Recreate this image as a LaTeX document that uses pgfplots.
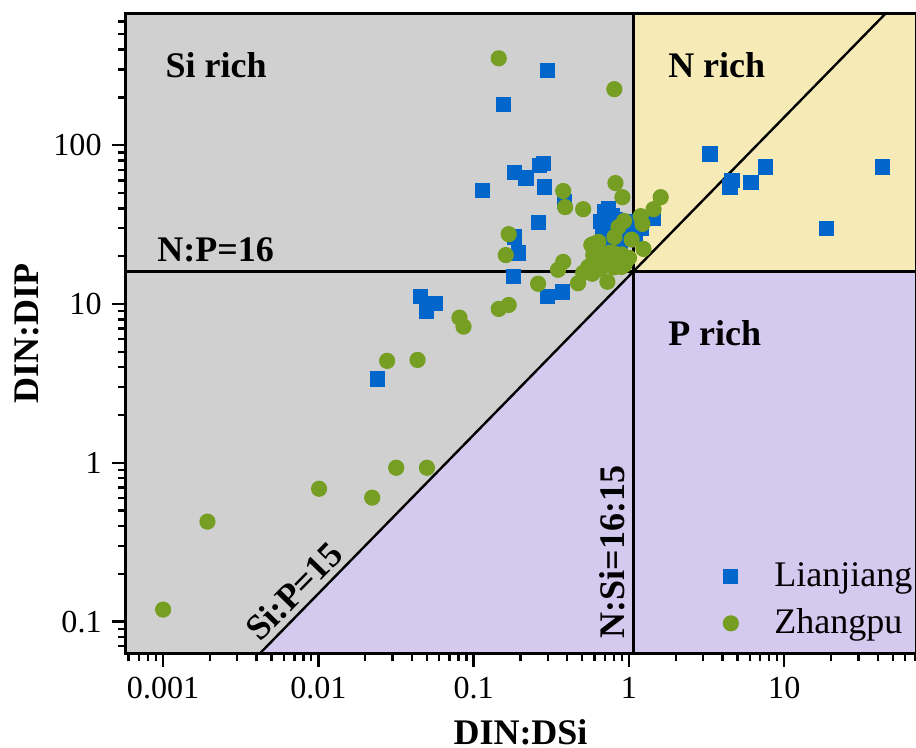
\documentclass[border=0pt]{standalone}
\usepackage{fontspec}
\setmainfont{Liberation Serif}
\usepackage{pgfplots}
\pgfplotsset{compat=1.18}
\definecolor{sigray}{RGB}{208,208,208}
\definecolor{nyellow}{RGB}{246,235,183}
\definecolor{ppurple}{RGB}{212,202,240}
\definecolor{ljblue}{RGB}{0,102,204}
\definecolor{zpgreen}{RGB}{118,158,34}
\begin{document}
\begin{tikzpicture}
\begin{axis}[
 scale only axis, width=263.7pt, height=213.5pt,
 xmode=log, ymode=log,
 xmin=0.000569, xmax=70.5, ymin=0.0626, ymax=674,
 xtick={0.001,0.01,0.1,1,10}, xticklabels={0.001,0.01,0.1,1,10},
 ytick={0.1,1,10,100}, yticklabels={0.1,1,10,100},
 minor xtick={0.0006,0.0007,0.0008,0.0009,0.002,0.003,0.004,0.005,0.006,0.007,0.008,0.009,0.02,0.03,0.04,0.05,0.06,0.07,0.08,0.09,0.2,0.3,0.4,0.5,0.6,0.7,0.8,0.9,2,3,4,5,6,7,8,9,20,30,40,50,60,70},
 minor ytick={0.07,0.08,0.09,0.2,0.3,0.4,0.5,0.6,0.7,0.8,0.9,2,3,4,5,6,7,8,9,20,30,40,50,60,70,80,90,200,300,400,500,600},
 tick align=outside, xtick pos=bottom, ytick pos=left,
 major tick length=4.3pt, minor tick length=2.3pt,
 every tick/.style={black, line width=0.8pt},
 axis line style={line width=1pt},
 tick label style={font=\fontsize{10.7}{12}\selectfont},
 xlabel={DIN:DSi}, ylabel={DIN:DIP},
 label style={font=\bfseries\fontsize{12}{14}\selectfont},
 xlabel style={at={(axis description cs:0.5,-0.102)}, anchor=north, inner sep=0pt},
 ylabel style={at={(axis description cs:-0.124,0.5)}, anchor=center, inner sep=0pt},
 legend style={at={(axis description cs:1.015,0.005)}, anchor=south east, draw=none, fill=none,
   font=\fontsize{12}{14}\selectfont, row sep=2pt},
 legend cell align=left,
 legend image code/.code={\draw[#1,only marks] plot coordinates {(0pt,0pt)};},
 /tikz/every odd column/.append style={column sep=10pt},
 axis on top,
]
% regions
\addplot[fill=sigray, draw=none, forget plot] coordinates {(0.000569,0.0626)(0.004173,0.0626)(1.0667,16)(1.0667,674)(0.000569,674)} -- cycle;
\addplot[fill=nyellow, draw=none, forget plot] coordinates {(1.0667,16)(70.5,16)(70.5,674)(1.0667,674)} -- cycle;
\addplot[fill=ppurple, draw=none, forget plot] coordinates {(0.004173,0.0626)(70.5,0.0626)(70.5,16)(1.0667,16)} -- cycle;
% boundary lines
\addplot[black, line width=0.8pt, forget plot] coordinates {(0.000569,16) (70.5,16)};
\addplot[black, line width=0.8pt, forget plot] coordinates {(1.0667,0.0626) (1.0667,674)};
\addplot[black, line width=0.8pt, forget plot] coordinates {(0.004173,0.0626) (44.93,674)};
% Lianjiang
\addplot[only marks, mark=square*, mark size=2.33pt, color=ljblue] coordinates {
(0.297,296)(0.156,181)(0.114,52)(0.184,67.6)(0.217,62)(0.264,74)(0.28,77)(0.284,54.5)
(0.383,44)(0.261,32.4)(0.184,26.4)(0.195,20.9)(0.181,14.8)(0.0454,11.1)(0.0568,10.1)
(0.0497,9.0)(0.297,11.2)(0.371,11.9)(0.0239,3.37)(3.32,87.8)(4.6,60)(4.47,54.5)(6.1,58.5)
(7.53,72.8)(43,72.8)(18.7,30)(1.44,34.7)
(0.70,38)(0.74,40)(0.78,36)(0.72,32)(0.80,30)(0.85,28)(0.90,26)(0.95,30)(1.0,28)(1.1,27)
(1.2,30)(0.75,24)(0.88,22)(0.82,34)(1.05,33)(0.68,28)(0.7,22)(0.66,33)(0.68,25)
};
\addlegendentry{Lianjiang}
% Zhangpu
\addplot[only marks, mark=*, mark size=2.5pt, color=zpgreen] coordinates {
(0.145,352)(0.805,225)(0.818,57.7)(0.907,47)(0.377,51.4)(0.388,40.7)(0.507,39.5)(1.6,47)
(1.44,39.5)(1.22,31.9)(1.19,35.7)(0.93,33.3)(0.856,30.5)(0.806,26.4)(1.04,25.4)(1.24,22.2)
(0.589,23.8)(0.635,24.6)(0.168,27.5)(0.161,20.3)(0.377,18.4)(0.349,16.4)(0.26,13.4)(0.47,13.5)
(0.507,15.7)(0.58,15.5)(0.726,13.8)(0.145,9.3)(0.168,9.85)(0.081,8.2)(0.086,7.2)(0.0277,4.38)
(0.0435,4.44)(0.0317,0.93)(0.05,0.93)(0.0101,0.686)(0.0222,0.603)(0.00193,0.426)(0.001,0.119)
(0.616,24.2)(0.572,23.5)(0.589,20.3)(0.664,20.0)(0.794,20.9)(0.855,18.9)(0.935,17.6)(0.737,17.6)
(0.616,17.6)(0.547,17.1)(0.894,17.1)(0.963,18.9)(0.75,21)(0.68,18.5)(0.9,20.5)(1.0,19.5)(0.8,17)
(0.65,16.5)
};
\addlegendentry{Zhangpu}
% region labels
\node[anchor=west, font=\bfseries\fontsize{12}{14}\selectfont, inner sep=0pt] at (axis description cs:0.0506,0.92) {Si rich};
\node[anchor=west, font=\bfseries\fontsize{12}{14}\selectfont, inner sep=0pt] at (axis description cs:0.686,0.92) {N rich};
\node[anchor=west, font=\bfseries\fontsize{12}{14}\selectfont, inner sep=0pt] at (axis description cs:0.686,0.501) {P rich};
\node[anchor=base west, font=\bfseries\fontsize{12}{14}\selectfont, inner sep=0pt] at (axis description cs:0.040,0.612) {N:P=16};
\node[rotate=45.64, font=\bfseries\fontsize{12}{14}\selectfont, inner sep=0pt] at (axis description cs:0.2137,0.098) {Si:P=15};
\node[rotate=90, font=\bfseries\fontsize{12}{14}\selectfont, inner sep=0pt] at (axis description cs:0.6157,0.159) {N:Si=16:15};
\end{axis}
\pgfresetboundingbox
\path[use as bounding box] ([xshift=-41.7pt,yshift=-31.3pt]current axis.south west) rectangle ([yshift=4.5pt]current axis.north east);
\end{tikzpicture}
\end{document}
